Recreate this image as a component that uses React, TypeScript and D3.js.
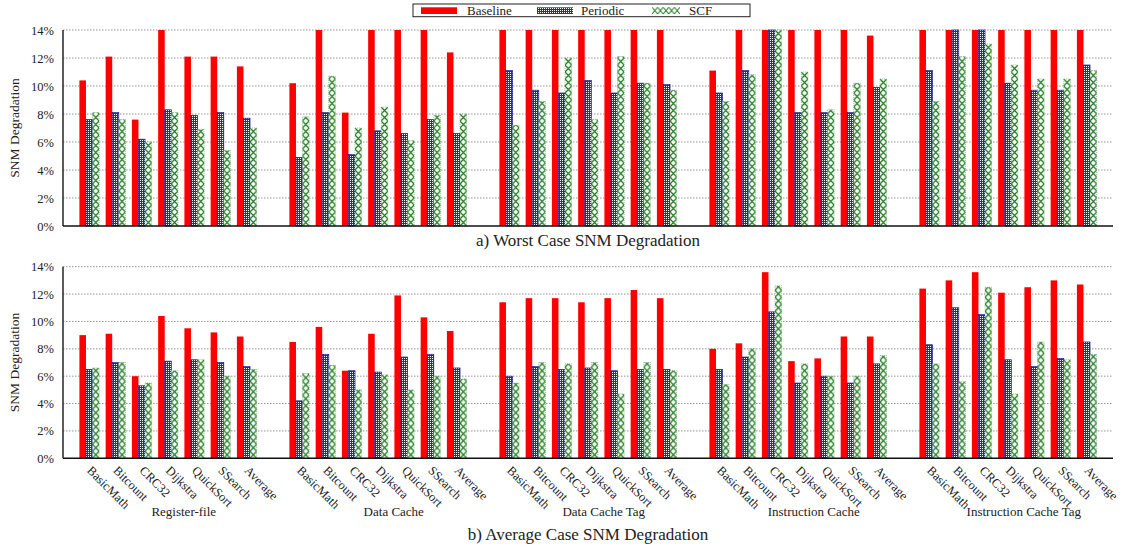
import React from "react";
import * as d3 from "d3";

const groups = ["Register-file", "Data Cache", "Data Cache Tag", "Instruction Cache", "Instruction Cache Tag"];
const benchmarks = ["BasicMath", "Bitcount", "CRC32", "Dijkstra", "QuickSort", "SSearch", "Average"];
const seriesNames = ["Baseline", "Periodic", "SCF"];
const yTicks = [0, 2, 4, 6, 8, 10, 12, 14];
const yTickLabels = ["0%", "2%", "4%", "6%", "8%", "10%", "12%", "14%"];

// Worst case SNM degradation (%), one row per cache structure, one column per benchmark
const worstBaseline = [
  [10.4, 12.1, 7.6, 14, 12.1, 12.1, 11.4],
  [10.2, 14, 8.1, 14, 14, 14, 12.4],
  [14, 14, 14, 14, 14, 14, 14],
  [11.1, 14, 14, 14, 14, 14, 13.6],
  [14, 14, 14, 14, 14, 14, 14],
];
const worstPeriodic = [
  [7.6, 8.1, 6.2, 8.3, 7.9, 8.1, 7.7],
  [4.9, 8.1, 5.1, 6.8, 6.6, 7.6, 6.6],
  [11.1, 9.7, 9.5, 10.4, 9.5, 10.2, 10.1],
  [9.5, 11.1, 14, 8.1, 8.1, 8.1, 9.9],
  [11.1, 14, 14, 10.2, 9.7, 9.7, 11.5],
];
const worstSCF = [
  [8.1, 7.6, 6.0, 8.1, 6.9, 5.4, 7.0],
  [7.8, 10.7, 7.0, 8.5, 6.1, 7.9, 8.0],
  [7.2, 8.9, 12.0, 7.6, 12.1, 10.2, 9.7],
  [8.9, 10.8, 14, 11.0, 8.3, 10.2, 10.5],
  [8.9, 12.1, 13.0, 11.5, 10.5, 10.5, 11.1],
];

// Average case SNM degradation (%)
const avgBaseline = [
  [9.0, 9.1, 6.0, 10.4, 9.5, 9.2, 8.9],
  [8.5, 9.6, 6.4, 9.1, 11.9, 10.3, 9.3],
  [11.4, 11.7, 11.7, 11.4, 11.7, 12.3, 11.7],
  [8.0, 8.4, 13.6, 7.1, 7.3, 8.9, 8.9],
  [12.4, 13.0, 13.6, 12.1, 12.5, 13.0, 12.7],
];
const avgPeriodic = [
  [6.5, 7.0, 5.3, 7.1, 7.2, 7.0, 6.7],
  [4.2, 7.6, 6.4, 6.3, 7.4, 7.6, 6.6],
  [6.0, 6.7, 6.5, 6.6, 6.4, 6.5, 6.5],
  [6.5, 7.4, 10.7, 5.5, 6.0, 5.5, 6.9],
  [8.3, 11.0, 10.5, 7.2, 6.7, 7.3, 8.5],
];
const avgSCF = [
  [6.6, 7.0, 5.5, 6.4, 7.2, 6.0, 6.5],
  [6.2, 6.8, 5.0, 6.1, 5.0, 6.0, 5.8],
  [5.5, 7.0, 6.9, 7.0, 4.7, 7.0, 6.4],
  [5.4, 8.0, 12.6, 6.9, 6.0, 6.0, 7.5],
  [6.9, 5.6, 12.5, 4.7, 8.5, 7.2, 7.6],
];

const FONT = '"Liberation Serif", "DejaVu Serif", serif';
const W = 1128;
const H = 550;
const left = 63;
const right = 1113;

// Each cache structure occupies 8 slots: 7 benchmark clusters + 1 empty spacer
const SLOTS = groups.length * 8;
const x = d3.scaleLinear().domain([-1, SLOTS - 1]).range([left, right]);
const slotW = x(1) - x(0);
const bw = slotW / 4;
const pos = (g: number, k: number) => g * 8 + k;

type Panel = {
  id: string;
  y: d3.ScaleLinear<number, number>;
  data: number[][][];
  title: string;
  titleY: number;
  showLabels: boolean;
};

const panels: Panel[] = [
  {
    id: "a",
    y: d3.scaleLinear().domain([0, 14]).range([226, 30]),
    data: [worstBaseline, worstPeriodic, worstSCF],
    title: "a) Worst Case SNM Degradation",
    titleY: 246,
    showLabels: false,
  },
  {
    id: "b",
    y: d3.scaleLinear().domain([0, 14]).range([458.3, 266.7]),
    data: [avgBaseline, avgPeriodic, avgSCF],
    title: "b) Average Case SNM Degradation",
    titleY: 540,
    showLabels: true,
  },
];

const fills = (id: string) => ["#ff0000", "url(#periodic)", `url(#scf-${id})`];
const strokes = ["none", "#1a1a96", "#6aa66a"];
const txt = { fontFamily: FONT, fill: "#222" } as React.CSSProperties;

function PanelView({ p }: { p: Panel }) {
  const [y0, y1] = p.y.range();
  const yMid = (y0 + y1) / 2;
  return (
    <g>
      {/* grid */}
      {yTicks.filter((t) => t > 0).map((t) => (
        <line key={t} x1={left} x2={right} y1={p.y(t)} y2={p.y(t)}
          stroke="#8a8a8a" strokeWidth={0.9} strokeDasharray="1.5,1.5" />
      ))}
      {/* tick labels */}
      {yTicks.map((t, i) => (
        <text key={t} x={54} y={p.y(t)} dy="0.36em" textAnchor="end"
          style={{ ...txt, fontSize: 12.5 }}>{yTickLabels[i]}</text>
      ))}
      <text transform={`translate(19,${yMid}) rotate(-90)`} textAnchor="middle"
        style={{ ...txt, fontSize: 13.5 }}>SNM Degradation</text>
      {/* bars */}
      {p.data.map((s, si) =>
        s.map((row, g) =>
          row.map((v, k) => {
            const cx = x(pos(g, k));
            const bx = cx - 1.5 * bw + si * bw;
            const top = p.y(Math.min(v, 14));
            return (
              <rect key={`${si}-${g}-${k}`} x={bx} y={top} width={bw} height={p.y(0) - top}
                fill={fills(p.id)[si]} stroke={strokes[si]} strokeWidth={si === 0 ? 0 : 0.7}
                strokeDasharray={si === 2 ? "1,1" : undefined} />
            );
          })
        )
      )}
      {/* axes */}
      <line x1={left} x2={left} y1={y1} y2={y0} stroke="#333" strokeWidth={1.6} />
      <line x1={left} x2={right} y1={y0} y2={y0} stroke="#111" strokeWidth={1.6} />
      {p.showLabels && groups.map((gName, g) => (
        <g key={gName}>
          {benchmarks.map((b, k) => {
            const ax = x(pos(g, k)) - 3;
            const ay = y0 + 13;
            return (
              <text key={b} transform={`translate(${ax},${ay}) rotate(45)`}
                style={{ ...txt, fontSize: 12.5 }}>{b}</text>
            );
          })}
          <text x={x(pos(g, 3.6))} y={516} textAnchor="middle"
            style={{ ...txt, fontSize: 13 }}>{gName}</text>
        </g>
      ))}
      <text x={(left + right) / 2} y={p.titleY} textAnchor="middle"
        style={{ ...txt, fontSize: 17 }}>{p.title}</text>
    </g>
  );
}

export default function App() {
  const legendX = [421, 537, 652];
  const legendTextX = [467, 581, 689];
  return (
    <svg width={W} height={H} viewBox={`0 0 ${W} ${H}`}
      style={{ position: "absolute", left: 0, top: 0, background: "#fff" }}>
      <defs>
        <pattern id="periodic" patternUnits="userSpaceOnUse" width={2} height={2}>
          <rect width={2} height={2} fill="#2626c8" />
          <rect width={1} height={1} fill="#ffffff" />
        </pattern>
        {panels.map((p) => (
          <pattern key={p.id} id={`scf-${p.id}`} patternUnits="userSpaceOnUse"
            x={x(0) + 0.5 * bw} y={p.y(0)} width={bw} height={7}>
            <rect width={bw} height={7} fill="#ffffff" />
            <path d={`M0,0L${bw},7M${bw},0L0,7`} stroke="#1c7a1c" strokeWidth={1.2} />
          </pattern>
        ))}
        <pattern id="scf-legend" patternUnits="userSpaceOnUse" x={652} y={7.3} width={5.6} height={6.7}>
          <rect width={5.6} height={6.7} fill="#ffffff" />
          <path d="M0,0L5.6,6.7M5.6,0L0,6.7" stroke="#1c7a1c" strokeWidth={1} />
        </pattern>
      </defs>
      {panels.map((p) => <PanelView key={p.id} p={p} />)}
      {/* legend */}
      <rect x={413} y={4} width={337} height={12.7} fill="#fff" stroke="#222" strokeWidth={1} />
      {seriesNames.map((s, i) => (
        <g key={s}>
          <rect x={legendX[i]} y={7.3} width={i === 2 ? 28 : 36} height={6.7}
            fill={i === 0 ? "#ff0000" : i === 1 ? "url(#periodic)" : "url(#scf-legend)"} />
          <text x={legendTextX[i]} y={14.6} style={{ ...txt, fontSize: 13 }}>{s}</text>
        </g>
      ))}
    </svg>
  );
}
